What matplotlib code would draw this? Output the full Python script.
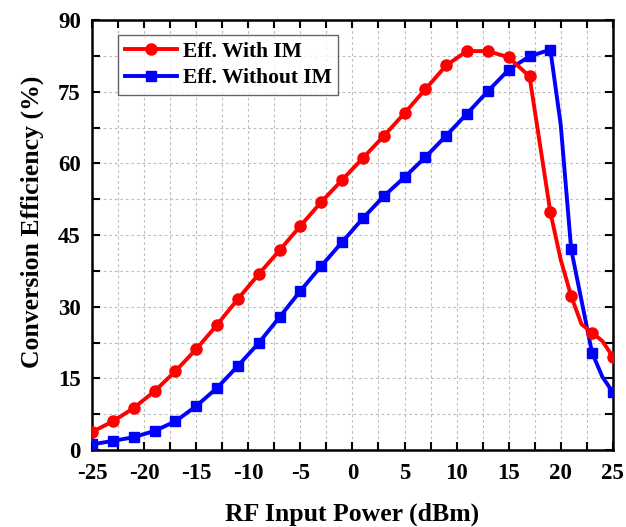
#!/usr/bin/python3

# Conversion efficiency vs RF input power, with and without IM

import matplotlib
matplotlib.use("Agg")
import matplotlib.pyplot as plt
from matplotlib.ticker import MultipleLocator

# red curve (with IM), dBm / %
x_im = [-25, -23, -21, -19, -17, -15, -13, -11, -9, -7, -5, -3, -1, 1, 3, 5, 7, 9,
        11, 13, 15, 17, 19, 20, 21, 22, 23, 24, 25]
eff_im = [3.8, 6.0, 8.8, 12.3, 16.5, 21.1, 26.2, 31.6, 36.8, 41.8, 46.9, 51.9, 56.5,
          61.1, 65.7, 70.5, 75.5, 80.5, 83.5, 83.5, 82.2, 78.2, 49.8, 39.8, 32.2,
          26.3, 24.6, 22.8, 19.5]

# blue curve (without IM)
x_noim = [-25, -23, -21, -19, -17, -15, -13, -11, -9, -7, -5, -3, -1, 1, 3, 5, 7, 9,
          11, 13, 15, 17, 19, 20, 21, 23, 24, 25]
eff_noim = [1.2, 1.9, 2.7, 4.0, 6.0, 9.2, 13.0, 17.6, 22.4, 27.8, 33.3, 38.5, 43.5,
            48.5, 53.1, 57.1, 61.3, 65.8, 70.4, 75.1, 79.6, 82.4, 83.8, 68.0, 42.0,
            20.4, 15.3, 12.1]

labels = ["Eff. With IM", "Eff. Without IM"]

plt.rcParams['font.family'] = ['Liberation Serif', 'DejaVu Serif']
plt.rcParams['font.weight'] = 'bold'
plt.rcParams['axes.unicode_minus'] = False

fig = plt.figure(figsize=(6.26, 5.27), dpi=100)
ax = fig.add_axes([0.147, 0.146, 0.832, 0.816])

# markers only on the odd dBm points
mk_im = [i for i, x in enumerate(x_im) if x % 2 != 0]
mk_noim = [i for i, x in enumerate(x_noim) if x % 2 != 0]

ax.plot(x_im, eff_im, color='#ff0000', lw=2.8, marker='o', ms=8,
        markevery=mk_im, label=labels[0], zorder=4)
ax.plot(x_noim, eff_noim, color='#0000ff', lw=2.8, marker='s', ms=7.5,
        markevery=mk_noim, label=labels[1], zorder=3)

ax.set_xlim(-25, 25)
ax.set_ylim(0, 90)
ax.xaxis.set_major_locator(MultipleLocator(5))
ax.xaxis.set_minor_locator(MultipleLocator(2.5))
ax.yaxis.set_major_locator(MultipleLocator(15))
ax.yaxis.set_minor_locator(MultipleLocator(7.5))

ax.grid(True, which='both', linestyle=(0, (2.5, 2.5)), color='#bdbdbd', lw=0.8)
ax.set_axisbelow(True)

ax.tick_params(which='both', direction='in', top=True, right=True, width=1.5,
               length=6, labelsize=16.5)
ax.tick_params(axis='x', pad=9)
ax.tick_params(axis='y', pad=8)
for s in ax.spines.values():
    s.set_linewidth(1.8)

ax.set_xlabel("RF Input Power (dBm)", fontsize=18.5, fontweight='bold', labelpad=14)
ax.set_ylabel("Conversion Efficiency (%)", fontsize=18.5, fontweight='bold')
ax.yaxis.set_label_coords(-0.092, 0.53)

leg = ax.legend(loc='upper left', bbox_to_anchor=(0.03, 0.99), fontsize=15.5,
                frameon=True, fancybox=False, edgecolor='#404040',
                handlelength=2.4, borderpad=0.3, labelspacing=0.3,
                handletextpad=0.3)
leg.get_frame().set_linewidth(1.0)

fig.savefig("out.png", dpi=100)
